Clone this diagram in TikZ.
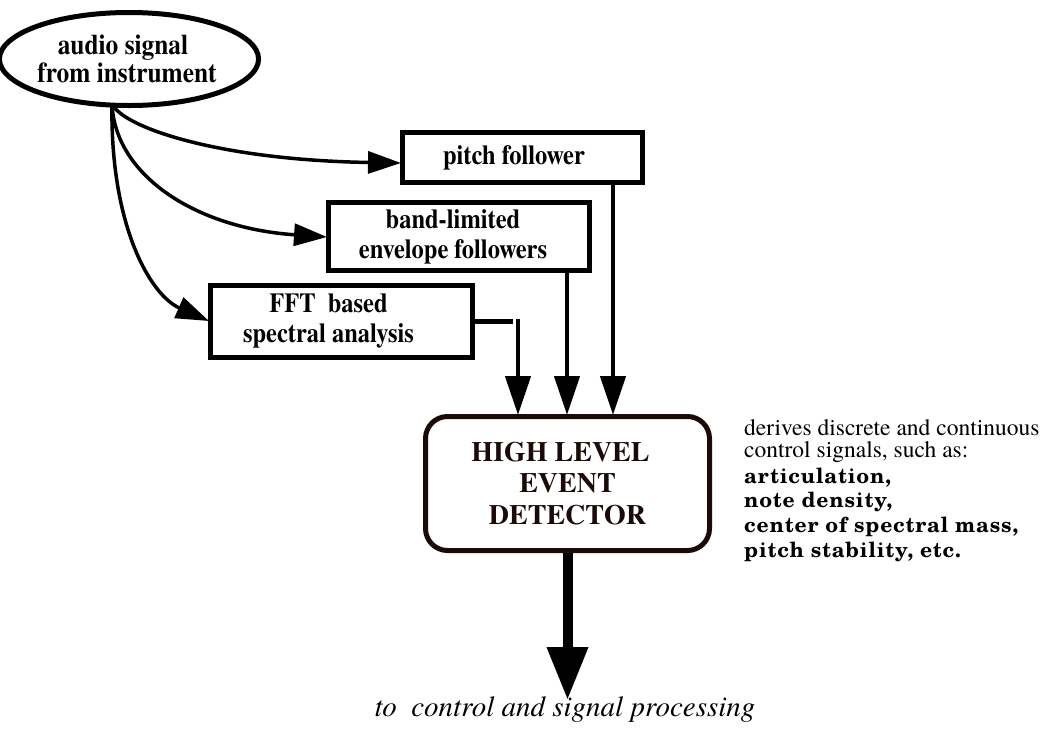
\documentclass[tikz,border=0pt]{standalone}
\usepackage{fontspec}
\IfFontExistsTF{texgyretermes-regular.otf}{%
  \setmainfont{texgyretermes}[Extension=.otf, UprightFont=*-regular, BoldFont=*-bold, ItalicFont=*-italic, BoldItalicFont=*-bolditalic]%
  \newfontfamily\narrowbold{texgyretermes}[Extension=.otf, UprightFont=*-bold, BoldFont=*-bold, FakeStretch=0.89]%
}{%
  \setmainfont{Liberation Serif}%
  \newfontfamily\narrowbold[FakeStretch=0.89]{Liberation Serif}%
}
\IfFontExistsTF{texgyreschola-bold.otf}{%
  \newfontfamily\widebold{texgyreschola}[Extension=.otf, UprightFont=*-bold, BoldFont=*-bold, LetterSpace=4.0]%
}{%
  \newfontfamily\widebold[LetterSpace=9.0]{Liberation Serif}%
}
\usetikzlibrary{arrows.meta,shapes.geometric,calc}
\definecolor{darkbrown}{RGB}{28,10,8}
\tikzset{
  procbox/.style={draw=black, line width=5pt, rectangle, inner sep=0pt, align=center,
    font=\narrowbold\bfseries\fontsize{27.5}{30}\selectfont},
  curvearrow/.style={line width=3.5pt, -{Triangle[length=33pt,width=22pt]}},
  downarrow/.style={line width=4.5pt, -{Triangle[length=39pt,width=25pt]}},
  plainline/.style={line width=5pt},
  bigarrow/.style={line width=10pt, -{Triangle[length=53pt,width=39pt]}},
  notetext/.style={anchor=base west, inner sep=0pt, font=\fontsize{23.5}{23}\selectfont},
  boldnote/.style={anchor=base west, inner sep=0pt, font=\widebold\bfseries\fontsize{21}{24}\selectfont},
}
\begin{document}
\begin{tikzpicture}[x=1pt,y=-1pt]
\useasboundingbox[fill=white] (0,0) rectangle (1050,729);

% source ellipse
\node[ellipse, draw=black, line width=5pt, inner sep=0pt, minimum width=237pt, minimum height=93pt,
  align=center, font=\narrowbold\bfseries\fontsize{28.5}{28}\selectfont] (src) at (129,59)
  {audio signal\hspace*{12pt}\\from instrument\hspace*{4pt}};

% processing boxes
\node[procbox, minimum width=240pt, minimum height=50pt] (pitch) at (522,157.5) {pitch follower\hspace*{16pt}};
\node[procbox, minimum width=261pt, minimum height=68pt] (band) at (459,236.5)
  {band-limited\hspace*{12pt}\\envelope followers\hspace*{12pt}};
\node[procbox, minimum width=262pt, minimum height=72pt] (fft) at (341.5,321.5)
  {FFT\ \ based\hspace*{26pt}\\spectral analysis\hspace*{26pt}};

% high level event detector
\node[draw=darkbrown, text=darkbrown, line width=5pt, rounded corners=22pt, inner sep=0pt,
  minimum width=284pt, minimum height=134pt, align=center,
  font=\bfseries\fontsize{28}{31.5}\selectfont] (hled) at (567.5,483.5)
  {HIGH LEVEL\hspace*{14pt}\\EVENT\hspace*{12pt}\\DETECTOR};

% coordinates
\coordinate (tap) at (112,104);
\coordinate (pitchin) at (401,163);
\coordinate (bandin) at (327,237);
\coordinate (fftin) at (209,321);
\coordinate (fftcorner) at (513,321.5);
\coordinate (ffttop) at (518,319);
\coordinate (fftdown) at (518,415);
\coordinate (bandtop) at (567,272);
\coordinate (banddown) at (567,415);
\coordinate (pitchtop) at (613,184);
\coordinate (pitchdown) at (613,415);
\coordinate (outtip) at (567.5,700);

% curved feeds
\draw[curvearrow] (tap) .. controls (124,128) and (220,160) .. (pitchin);
\draw[curvearrow] (tap) .. controls (115,175) and (195,228) .. (bandin);
\draw[curvearrow] (tap) .. controls (110,225) and (150,295) .. (fftin);

% into detector
\draw[plainline] (fft.east) -- (fftcorner);
\draw[downarrow] (ffttop) -- (fftdown);
\draw[downarrow] (bandtop) -- (banddown);
\draw[downarrow] (pitchtop) -- (pitchdown);

% output
\draw[bigarrow] (hled.south) -- (outtip);
\node[anchor=base, inner sep=0pt, font=\itshape\fontsize{29}{32}\selectfont] (outlabel) at (565,716)
  {to\ \ control and signal processing};

% description
\node[notetext] (r1) at (744,435) {derives discrete and continuous};
\node[notetext] (r2) at (744,457) {control signals, such as:};
\node[boldnote] (r3) at (744,483) {articulation,};
\node[boldnote] (r4) at (744,507) {note density,};
\node[boldnote] (r5) at (744,532) {center of spectral mass,};
\node[boldnote] (r6) at (744,557) {pitch stability, etc.};
\end{tikzpicture}
\end{document}
